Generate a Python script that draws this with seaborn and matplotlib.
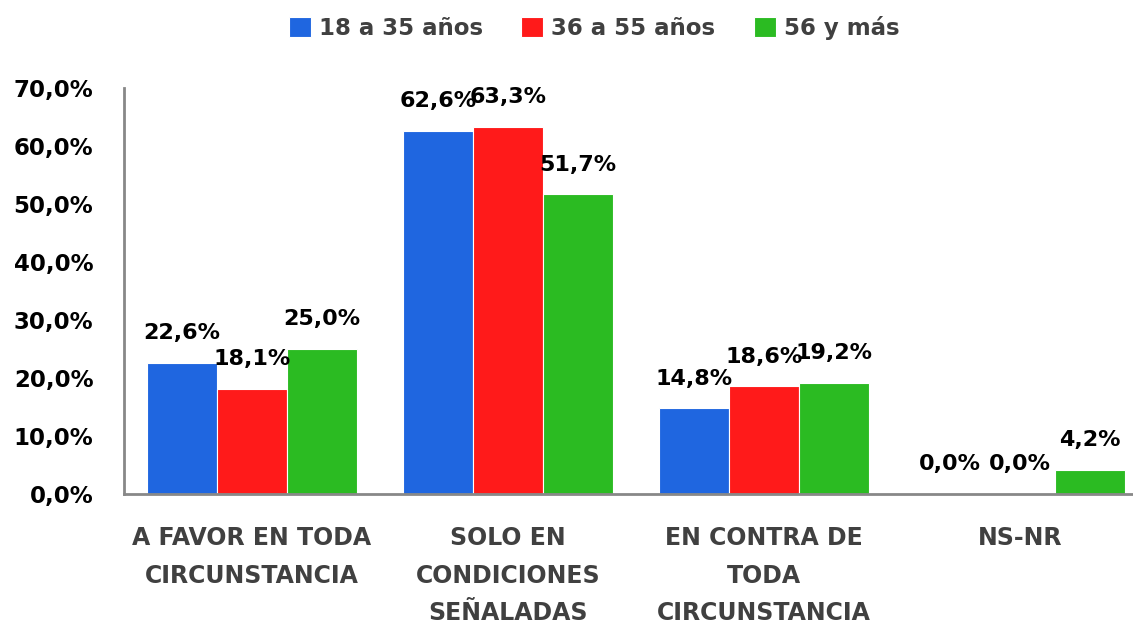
import pandas as pd
import matplotlib
matplotlib.use("Agg")
import matplotlib.pyplot as plt
import seaborn as sns

# -------------------------------
# Data
# -------------------------------
categories = ["A FAVOR EN TODA\nCIRCUNSTANCIA", "SOLO EN\nCONDICIONES\nSEÑALADAS",
              "EN CONTRA DE\nTODA\nCIRCUNSTANCIA", "NS-NR"]
groups = ["18 a 35 años", "36 a 55 años", "56 y más"]
vals_18_35 = [22.6, 62.6, 14.8, 0.0]
vals_36_55 = [18.1, 63.3, 18.6, 0.0]
vals_56 = [25.0, 51.7, 19.2, 4.2]
colors = ["#1F66E0", "#FF1A1A", "#2BBB22"]

df = pd.DataFrame({
    "categoria": categories * 3,
    "grupo": [g for g in groups for _ in categories],
    "valor": vals_18_35 + vals_36_55 + vals_56,
})

sns.set_style("white")
plt.rcParams["font.family"] = ["DejaVu Sans"]
plt.rcParams["font.weight"] = "bold"

fig = plt.figure(figsize=(11.33, 6.26), dpi=100)
ax = fig.add_axes([0.1094, 0.211, 0.904, 0.6486])

sns.barplot(data=df, x="categoria", y="valor", hue="grupo", palette=colors,
            width=0.82, ax=ax, saturation=1, edgecolor="white", linewidth=0.8)

# data labels
for cont in ax.containers:
    labels = [f"{v:.1f}%".replace(".", ",") for v in cont.datavalues]
    ax.bar_label(cont, labels=labels, padding=14, fontsize=16, fontweight="bold", color="black")

ax.set_ylim(0, 70)
ax.set_yticks(range(0, 71, 10))
ax.set_yticklabels([f"{t},0%" for t in range(0, 71, 10)], fontsize=16.5, fontweight="bold", color="black")
ax.set_xticklabels(categories, fontsize=17, fontweight="bold", color="#404040", linespacing=1.72)
ax.tick_params(axis="x", length=0, pad=23)
ax.tick_params(axis="y", length=0, pad=22)
ax.set_xlabel("")
ax.set_ylabel("")

for s in ["top", "right"]:
    ax.spines[s].set_visible(False)
for s in ["left", "bottom"]:
    ax.spines[s].set_color("#888888")
    ax.spines[s].set_linewidth(2)

leg = ax.legend(loc="center", bbox_to_anchor=(0.459, 1.148), ncol=3, frameon=False,
                handlelength=0.95, handleheight=0.95, handletextpad=0.35, columnspacing=1.68,
                prop={"size": 16.5, "weight": "bold"})
for t in leg.get_texts():
    t.set_color("#404040")

fig.savefig("out.png", dpi=100)
